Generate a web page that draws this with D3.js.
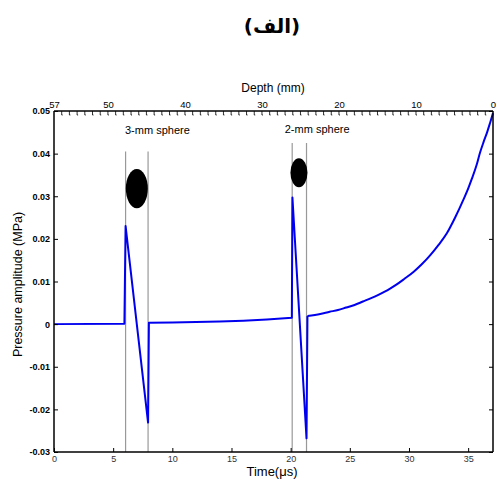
<!DOCTYPE html>
<html><head><meta charset="utf-8">
<script src="https://cdn.jsdelivr.net/npm/d3@7"></script>
<style>body{margin:0;background:#fff;} svg{display:block;}</style>
</head><body><svg id="c" width="497" height="480"></svg>
<script>
// Data
const timeUs = [0, 5.95, 6.05, 7.95, 8.02, 10, 12, 14, 16, 18, 20.1, 20.15, 21.34, 21.42, 22.5, 23.3, 24.0, 24.7, 25.4, 26.1, 26.8, 27.5, 28.2, 28.9, 29.6, 30.4, 31.1, 31.8, 32.5, 33.2, 33.9, 34.6, 35.0, 35.3, 35.7, 36.0, 36.3, 36.6, 36.85, 37.1];
const pressureMPa = [0, 0.0001, 0.0230, -0.0231, 0.0003, 0.0004, 0.0005, 0.0006, 0.0008, 0.0011, 0.0015, 0.0297, -0.0268, 0.0019, 0.0024, 0.0029, 0.0033, 0.0039, 0.0045, 0.0053, 0.0061, 0.0070, 0.0080, 0.0092, 0.0106, 0.0123, 0.0141, 0.0162, 0.0186, 0.0213, 0.0250, 0.0292, 0.0318, 0.0340, 0.0372, 0.0402, 0.0427, 0.0450, 0.0472, 0.0495];
const timeTicks = [0, 5, 10, 15, 20, 25, 30, 35];
const pressureTicks = [-0.03, -0.02, -0.01, 0, 0.01, 0.02, 0.03, 0.04, 0.05];
const pressureTickLabels = ["-0.03", "-0.02", "-0.01", "0", "0.01", "0.02", "0.03", "0.04", "0.05"];
const depthTicks = [57, 50, 40, 30, 20, 10, 0];
const sphereLabels = ["3-mm sphere", "2-mm sphere"];
const sphereEdgesUs = [[6.05, 7.95], [20.13, 21.34]];
const sphereLineTop = [0.0405, 0.0425];
const sphereCenter = [[7.0, 0.0318], [20.7, 0.0355]];
const sphereRadiiUs = [[0.93, 0.0046], [0.72, 0.0034]];
const sphereLabelPos = [[6.0, 0.0445], [19.5, 0.0448]];

const svg = d3.select("#c");
const L = 54, R = 493, T = 111, B = 452;
const x = d3.scaleLinear().domain([0, 37.1]).range([L, R]);
const y = d3.scaleLinear().domain([-0.03, 0.05]).range([B, T]);
const xd = d3.scaleLinear().domain([57, 0]).range([L, R]);

// title
svg.append("text").attr("x", 272).attr("y", 33).attr("text-anchor", "middle")
  .attr("font-family", "DejaVu Sans").attr("font-weight", "bold").attr("font-size", 20)
  .text("(الف)");

// sphere vertical lines
sphereEdgesUs.forEach((e, i) => {
  e.forEach(t => {
    svg.append("line").attr("x1", x(t)).attr("x2", x(t)).attr("y1", y(sphereLineTop[i])).attr("y2", B)
      .attr("stroke", "#999").attr("stroke-width", 1.2);
  });
  svg.append("ellipse").attr("cx", x(sphereCenter[i][0])).attr("cy", y(sphereCenter[i][1]))
    .attr("rx", x(sphereRadiiUs[i][0]) - x(0)).attr("ry", y(0) - y(sphereRadiiUs[i][1])).attr("fill", "#000");
  svg.append("text").attr("x", x(sphereLabelPos[i][0])).attr("y", y(sphereLabelPos[i][1]))
    .attr("font-family", "Liberation Sans, Arial").attr("font-size", 11).text(sphereLabels[i]);
});

// line: pulses drawn straight, smooth tail after the last pulse
const pts = timeUs.map((t, i) => [t, pressureMPa[i]]);
const split = 13;
svg.append("path").datum(pts.slice(0, split + 1))
  .attr("d", d3.line().x(d => x(d[0])).y(d => y(d[1])))
  .attr("fill", "none").attr("stroke", "#0000ee").attr("stroke-width", 2).attr("stroke-linejoin", "round");
svg.append("path").datum(pts.slice(split))
  .attr("d", d3.line().x(d => x(d[0])).y(d => y(d[1])).curve(d3.curveMonotoneX))
  .attr("fill", "none").attr("stroke", "#0000ee").attr("stroke-width", 2).attr("stroke-linejoin", "round");

// frame
const frame = svg.append("g").attr("stroke", "#000").attr("stroke-width", 1.5).attr("fill", "none");
frame.append("line").attr("x1", L).attr("x2", L).attr("y1", T).attr("y2", B);
frame.append("line").attr("x1", L).attr("x2", R).attr("y1", B).attr("y2", B);
frame.append("line").attr("x1", L).attr("x2", R).attr("y1", T).attr("y2", T);
frame.append("line").attr("x1", R).attr("x2", R).attr("y1", T).attr("y2", B);

// bottom axis
const gx = svg.append("g").attr("transform", `translate(0,${B})`)
  .call(d3.axisBottom(x).tickValues(timeTicks).tickSize(-4).tickPadding(4).tickFormat(d3.format("d")));
gx.select(".domain").remove();
gx.selectAll("line").attr("stroke", "#000");
gx.selectAll("text").attr("font-family", "Liberation Sans, Arial").attr("font-size", 9).attr("fill", "#333");

// left axis
const gy = svg.append("g").attr("transform", `translate(${L},0)`)
  .call(d3.axisLeft(y).tickValues(pressureTicks).tickSize(-4).tickPadding(4).tickFormat((d, i) => pressureTickLabels[i]));
gy.select(".domain").remove();
gy.selectAll("line").attr("stroke", "#000");
gy.selectAll("text").attr("font-family", "Liberation Sans, Arial").attr("font-size", 9).attr("font-weight", "bold").attr("fill", "#000");

// right ticks
const gr = svg.append("g").attr("transform", `translate(${R},0)`)
  .call(d3.axisRight(y).tickValues(pressureTicks).tickSize(-4).tickFormat(""));
gr.select(".domain").remove();
gr.selectAll("line").attr("stroke", "#000");

// top depth axis
const gt = svg.append("g").attr("transform", `translate(0,${T})`)
  .call(d3.axisTop(xd).tickValues(depthTicks).tickSize(0).tickPadding(3).tickFormat(d3.format("d")));
gt.select(".domain").remove();
gt.selectAll("text").attr("font-family", "Liberation Sans, Arial").attr("font-size", 9.5).attr("fill", "#000");
const minor = d3.range(56, 0, -1);
gt.selectAll(".minor").data(minor).enter().append("path").attr("class", "minor")
  .attr("d", d => `M${xd(d)},0 v4 h1`).attr("stroke", "#000").attr("stroke-width", 0.8).attr("fill", "none");

// axis titles
svg.append("text").attr("x", 273).attr("y", 92).attr("text-anchor", "middle")
  .attr("font-family", "Liberation Sans, Arial").attr("font-size", 12).text("Depth (mm)");
svg.append("text").attr("x", 272).attr("y", 476).attr("text-anchor", "middle")
  .attr("font-family", "Liberation Sans, Arial").attr("font-size", 13).text("Time(μs)");
svg.append("text").attr("transform", `translate(22,${(T + B) / 2 + 3}) rotate(-90)`).attr("text-anchor", "middle")
  .attr("font-family", "Liberation Sans, Arial").attr("font-size", 12.5).text("Pressure amplitude (MPa)");
</script></body></html>
